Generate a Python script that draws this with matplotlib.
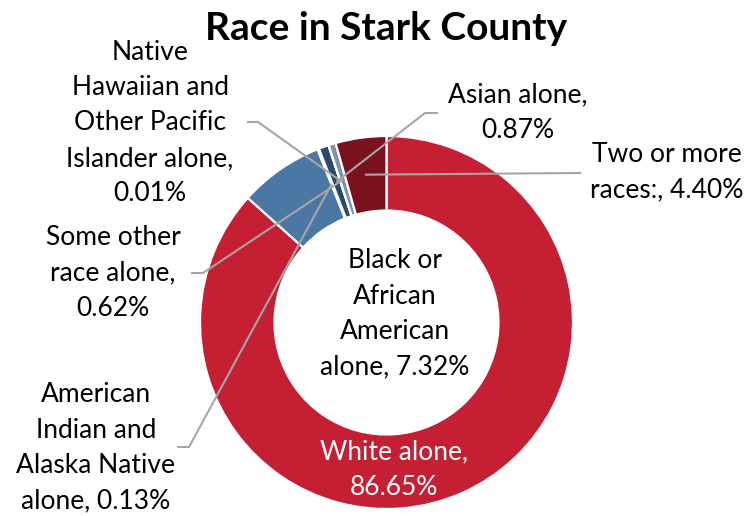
import numpy as np
import matplotlib.pyplot as plt

plt.rcParams['font.family'] = ['Lato', 'DejaVu Sans']

races = ['White alone', 'Black or African American alone',
         'American Indian and Alaska Native alone', 'Asian alone',
         'Native Hawaiian and Other Pacific Islander alone',
         'Some other race alone', 'Two or more races:']
shares = [86.65, 7.32, 0.13, 0.87, 0.01, 0.62, 4.40]
colors = ['#C41F33', '#4B77A4', '#1F3864', '#2C4A6E', '#7F8FA6', '#8091A6', '#7A111F']

# label text as it appears in the chart (wrapped like the original)
label_text = [
    'White alone,\n86.65%',
    'Black or\nAfrican\nAmerican\nalone, 7.32%',
    'American\nIndian and\nAlaska Native\nalone, 0.13%',
    'Asian alone,\n0.87%',
    'Native\nHawaiian and\nOther Pacific\nIslander alone,\n0.01%',
    'Some other\nrace alone,\n0.62%',
    'Two or more\nraces:, 4.40%',
]

W, H = 749, 516
fig = plt.figure(figsize=(W / 100, H / 100), dpi=100)
ax = fig.add_axes([0, 0, 1, 1])

cx, cy = 386.5, H - 322.5
r_out = 186.5
ring = 74.5

wedges, _ = ax.pie(shares, colors=colors, startangle=90, counterclock=False,
                   center=(cx, cy), radius=r_out, frame=True,
                   wedgeprops=dict(width=ring, edgecolor='white', linewidth=1.6))
ax.set_xlim(0, W)
ax.set_ylim(0, H)
ax.axis('off')


def mid_point(w):
    ang = np.deg2rad((w.theta1 + w.theta2) / 2)
    r = r_out - ring / 2
    return cx + r * np.cos(ang), cy + r * np.sin(ang)


fs = 19
# labels placed in pixel coords measured from top
placements = {
    0: (394, 470, 'white'),
    1: (395, 314, 'black'),
    2: (96, 448, 'black'),
    3: (518, 113, 'black'),
    4: (150, 123, 'black'),
    5: (113, 273, 'black'),
    6: (667, 172, 'black'),
}
for i, (x, y, c) in placements.items():
    ax.text(x, H - y, label_text[i], ha='center', va='center', color=c,
            fontsize=fs, linespacing=1.52)

# leader lines: (stub start, stub end) in pixels from top
stubs = {
    2: ((177, 447), (189, 447)),
    3: ((438, 113), (425, 113)),
    4: ((247, 122), (258, 122)),
    5: ((191, 273), (203, 273)),
}
for i, (p0, p1) in stubs.items():
    mx, my = mid_point(wedges[i])
    ax.plot([p0[0], p1[0], mx], [H - p0[1], H - p1[1], my],
            color='#A6A6A6', lw=1.5, solid_capstyle='butt')
mx, my = mid_point(wedges[6])
ax.plot([mx, 580], [my, H - 173], color='#A6A6A6', lw=1.5)

ax.text(386, H - 28, 'Race in Stark County', ha='center', va='center',
        fontsize=28, fontweight='bold')

plt.savefig('out.png', dpi=100)
